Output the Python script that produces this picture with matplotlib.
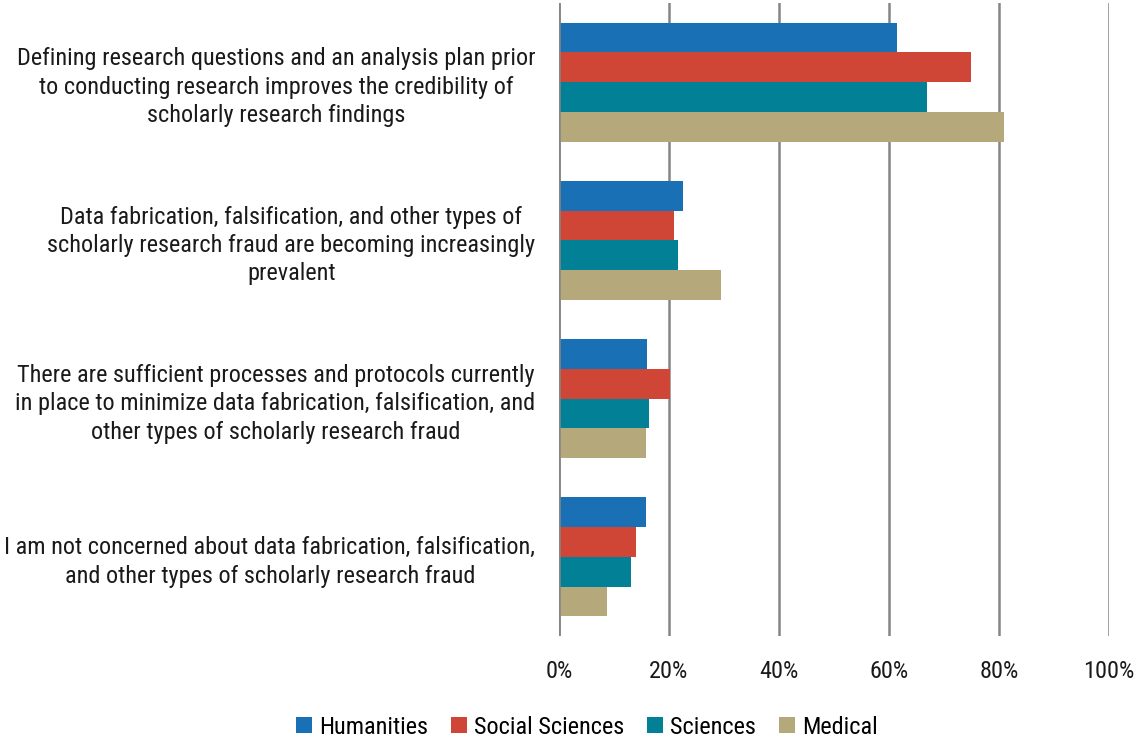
import numpy as np
import matplotlib
matplotlib.use("Agg")
import matplotlib.pyplot as plt
from matplotlib import font_manager
from matplotlib.ticker import FuncFormatter

# condensed font if one is around, otherwise plain Liberation Sans a bit smaller
names = {f.name for f in font_manager.fontManager.ttflist}
narrow = [n for n in ["Liberation Sans Narrow", "Roboto Condensed", "Open Sans Condensed", "Arial Narrow"] if n in names]
if narrow:
    plt.rcParams['font.family'] = [narrow[0], 'DejaVu Sans']
    fs = 17.5
else:
    plt.rcParams['font.family'] = ['Liberation Sans', 'DejaVu Sans']
    fs = 14.5

categories = [
    "Defining research questions and an analysis plan prior\nto conducting research improves the credibility of\nscholarly research findings",
    "Data fabrication, falsification, and other types of\nscholarly research fraud are becoming increasingly\nprevalent",
    "There are sufficient processes and protocols currently\nin place to minimize data fabrication, falsification, and\nother types of scholarly research fraud",
    "I am not concerned about data fabrication, falsification,\nand other types of scholarly research fraud",
]
series = ["Humanities", "Social Sciences", "Sciences", "Medical"]
humanities = [61.5, 22.5, 16.0, 15.8]
social_sciences = [74.9, 20.9, 20.2, 14.0]
sciences = [66.9, 21.6, 16.4, 13.1]
medical = [80.9, 29.5, 15.8, 8.7]
colors = ["#1a70b5", "#cf4636", "#028196", "#b5a97b"]

values = [humanities, social_sciences, sciences, medical]

fig = plt.figure(figsize=(11.38, 7.4), dpi=100)
ax = fig.add_axes([559/1138, 1 - 636/740, 550/1138, 633/740])

y = np.arange(len(categories))
h = 0.188
for i, (name, vals) in enumerate(zip(series, values)):
    ax.barh(y - 1.5*h + i*h, vals, height=h, color=colors[i], label=name, zorder=3)

ax.set_xlim(0, 100)
ax.set_ylim(len(categories) - 0.5, -0.5)
ax.set_xticks(np.arange(0, 101, 20))
ax.xaxis.set_major_formatter(FuncFormatter(lambda v, p: f"{v:.0f}%"))
ax.grid(axis='x', color='#858585', linewidth=1.8, zorder=0)
for s in ax.spines.values():
    s.set_visible(False)
ax.axvline(0, color='#858585', linewidth=1.8, zorder=4)
ax.tick_params(axis='x', length=0, pad=17, labelsize=17.5, labelcolor='#1a1a1a')
ax.tick_params(axis='y', length=0, pad=17)
ax.set_yticks(y)
ax.set_yticklabels(categories, fontsize=fs, color='#1a1a1a', multialignment='center', linespacing=1.3)

leg = fig.legend(loc='center', bbox_to_anchor=(587/1138, 1 - 727/740), ncol=4, frameon=False,
                 fontsize=17.5, handlelength=0.64, handleheight=0.64, handletextpad=0.3, columnspacing=0.95)

fig.savefig("out.png", dpi=100)
